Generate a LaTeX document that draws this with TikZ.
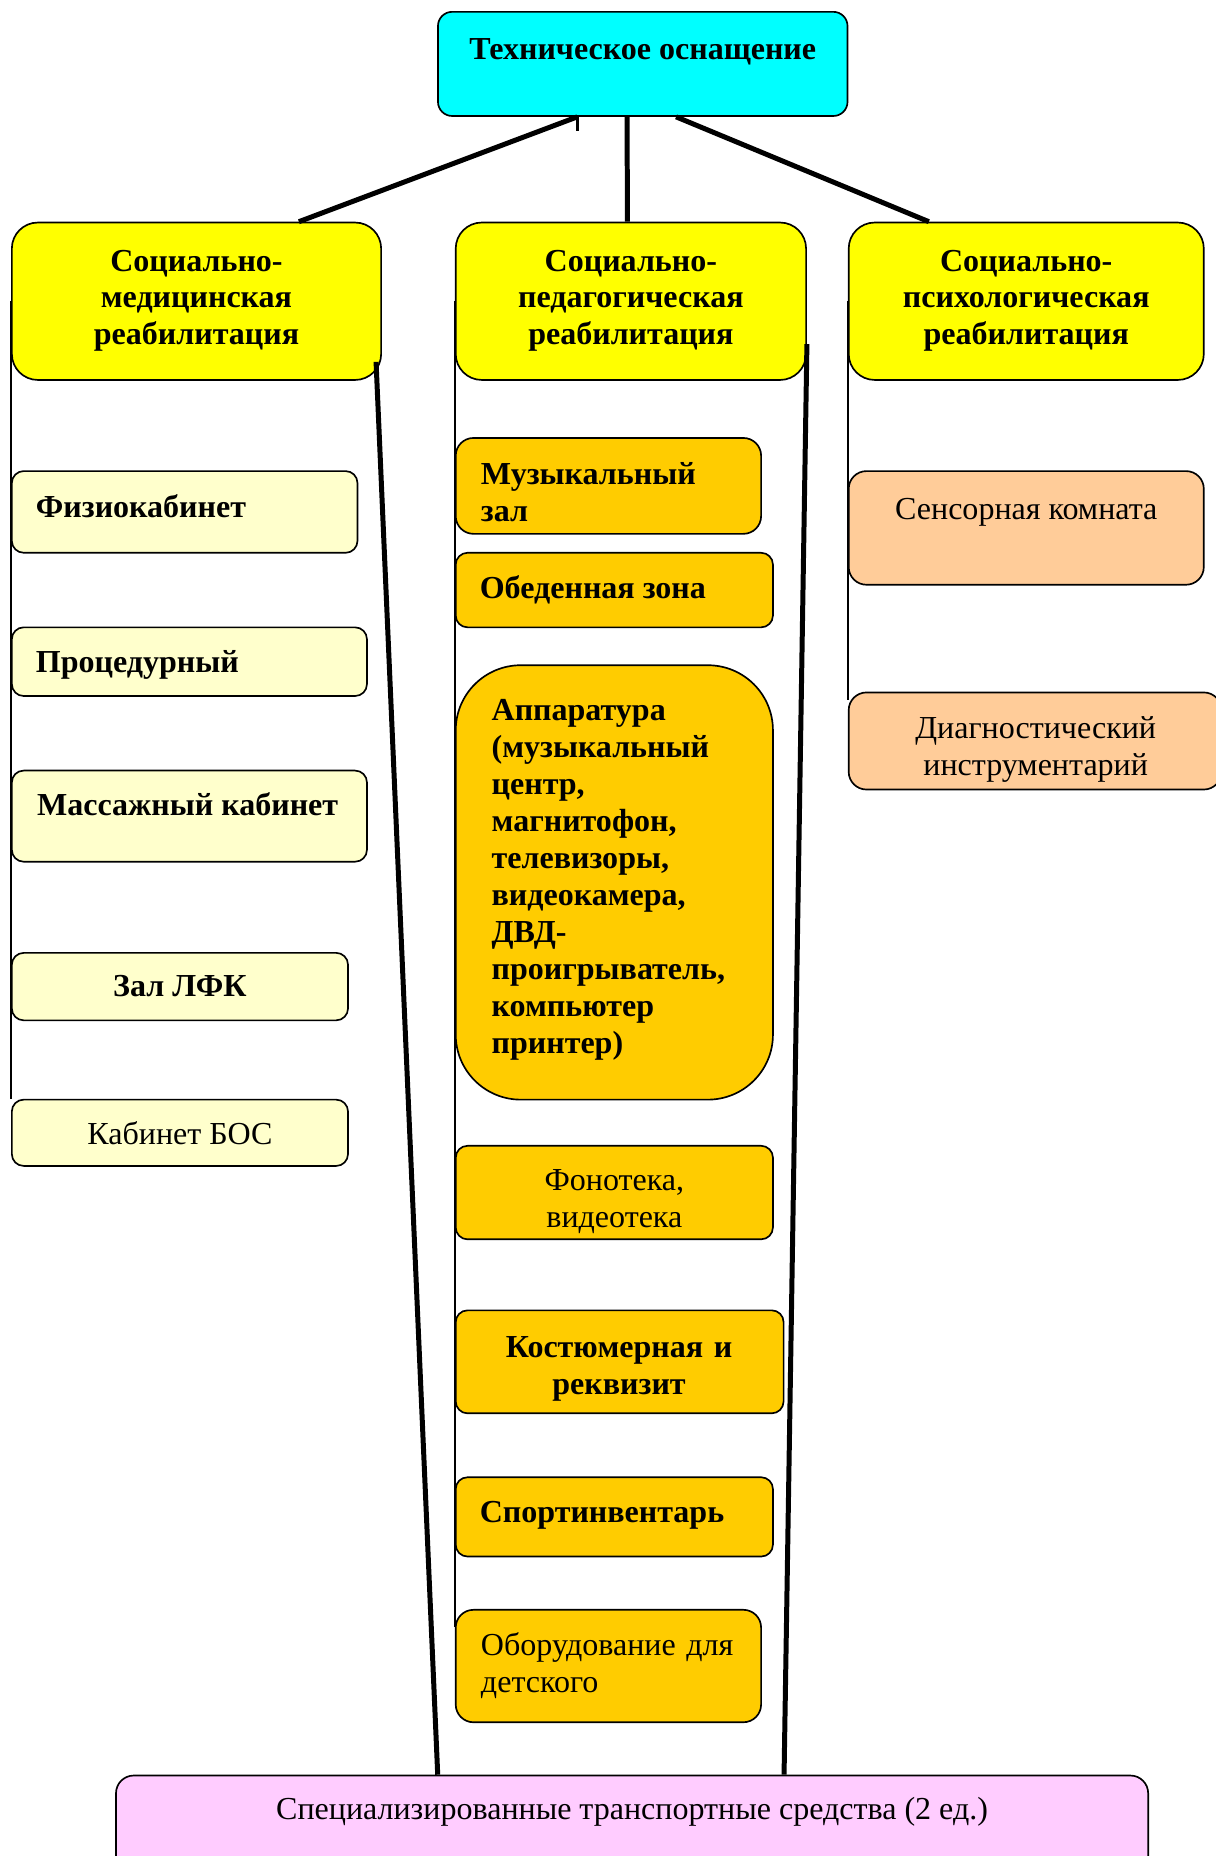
\documentclass[tikz,border=0pt]{standalone}
\usepackage{fontspec}
\setmainfont{Liberation Serif}
\usetikzlibrary{calc,fit}

\definecolor{tcyan}{HTML}{00FFFF}
\definecolor{yel}{HTML}{FFFF00}
\definecolor{lyel}{HTML}{FFFFCC}
\definecolor{orng}{HTML}{FFCC00}
\definecolor{peach}{HTML}{FFCC99}
\definecolor{pink}{HTML}{FFCCFF}

\tikzset{
  box/.style={draw, line width=0.8pt, inner sep=0pt, rounded corners=#1},
  box/.default=0.2cm,
  txt/.style={inner sep=0pt, font=\fontsize{15.4}{17.75}\selectfont},
  btxt/.style={inner sep=0pt, font=\fontsize{15.4}{17.75}\selectfont\bfseries},
  conn/.style={line width=2.4pt},
  guide/.style={line width=1.1pt},
}

\begin{document}
\begin{tikzpicture}[x=0.02cm, y=-0.02cm]
		%%%%% START %%%%%
		\useasboundingbox (0,0) rectangle (1027,1568);
		
		\node[box=0.24cm, fill=tcyan, fit={(370,10) (716,98)}] (tech) {};
		\node[btxt, anchor=base] (tech-t) at (543,50) {Техническое оснащение};
		
		\node[box=0.44cm, fill=yel, fit={(10,188) (322,321)}] (med) {};
		\node[box=0.44cm, fill=yel, fit={(385,188) (681,321)}] (ped) {};
		\node[box=0.44cm, fill=yel, fit={(717,188) (1017,321)}] (psy) {};
		\node[btxt, text width=6cm, align=center, anchor=base] (med-t) at (166,229) {Социально-\\медицинская\\реабилитация};
		\node[btxt, text width=6cm, align=center, anchor=base] (ped-t) at (533,229) {Социально-\\педагогическая\\реабилитация};
		\node[btxt, text width=6cm, align=center, anchor=base] (psy-t) at (867,229) {Социально-\\психологическая\\реабилитация};
		
		\node[box, fill=lyel, fit={(10,398) (302,467)}] (fizio) {};
		\node[box, fill=lyel, fit={(10,530) (310,588)}] (proc) {};
		\node[box, fill=lyel, fit={(10,651) (310,728)}] (mass) {};
		\node[box, fill=lyel, fit={(10,805) (294,862)}] (lfk) {};
		\node[box, fill=lyel, fit={(10,929) (294,985)}] (bos) {};
		\node[btxt, anchor=base west] (fizio-t) at (30,437) {Физиокабинет};
		\node[btxt, anchor=base west] (proc-t) at (30,568) {Процедурный};
		\node[btxt, anchor=base west] (mass-t) at (31,689) {Массажный кабинет};
		\node[btxt, anchor=base] (lfk-t) at (152,842) {Зал ЛФК};
		\node[txt, anchor=base] (bos-t) at (152,967) {Кабинет БОС};
		
		\node[box=0.3cm, fill=orng, fit={(385,370) (643,451)}] (muz) {};
		\node[box, fill=orng, fit={(385,467) (653,530)}] (obed) {};
		\node[box=1.1cm, fill=orng, fit={(385,562) (653,929)}] (appar) {};
		\node[box, fill=orng, fit={(385,968) (653,1047)}] (fono) {};
		\node[box, fill=orng, fit={(385,1107) (662,1194)}] (kost) {};
		\node[box, fill=orng, fit={(385,1248) (653,1315)}] (sport) {};
		\node[box=0.3cm, fill=orng, fit={(385,1360) (643,1455)}] (obor) {};
		\node[btxt, text width=4.8cm, align=left, anchor=base west] (muz-t) at (406,409) {Музыкальный\\зал};
		\node[btxt, anchor=base west] (obed-t) at (405,506) {Обеденная зона};
		\node[btxt, text width=4.8cm, align=left, anchor=base west] (appar-t) at (415,609) {Аппаратура\\(музыкальный\\центр,\\магнитофон,\\телевизоры,\\видеокамера,\\ДВД-\\проигрыватель,\\компьютер\\принтер)};
		\node[txt, text width=5cm, align=center, anchor=base] (fono-t) at (519,1006) {Фонотека,\\видеотека};
		\node[btxt, text width=5.4cm, align=center, anchor=base] (kost-t) at (523,1147) {Костюмерная и\\реквизит};
		\node[btxt, anchor=base west] (sport-t) at (405,1286) {Спортинвентарь};
		\node[txt, text width=4.8cm, align=left, anchor=base west] (obor-t) at (406,1399) {Оборудование для\\детского};
		
		\node[box=0.3cm, fill=peach, fit={(717,398) (1017,494)}] (sens) {};
		\node[box=0.3cm, fill=peach, fit={(717,585) (1032,667)}] (diag) {};
		\node[txt, anchor=base] (sens-t) at (867,439) {Сенсорная комната};
		\node[txt, text width=6cm, align=center, anchor=base] (diag-t) at (875,624) {Диагностический\\инструментарий};
		
		\node[box=0.3cm, fill=pink, fit={(98,1500) (970,1590)}] (trans) {};
		\node[txt, anchor=base] (trans-t) at (534,1537) {Специализированные транспортные средства (2 ед.)};
		
		% links from the top
		\coordinate (tech-l) at ($(tech.south west)!0.341!(tech.south east)$);
		\draw[conn] (tech-l) -- ($(med.north west)!0.776!(med.north east)$);
		\draw[guide] (tech-l) -- ++(0,12);
		\draw[conn] ($(tech.south west)!0.462!(tech.south east)$) -- ($(ped.north west)!0.49!(ped.north east)$);
		\draw[conn] ($(tech.south west)!0.581!(tech.south east)$) -- ($(psy.north west)!0.227!(psy.north east)$);
		
		% columns
		\draw[guide] (med.west) -- (bos.north west);
		\draw[guide] (ped.west) -- ($(obor.north west)+(0,15)$);
		\draw[guide] (psy.west) -- ($(diag.north west)+(0,7)$);
		
		\draw[conn] ($(med.south east)+(-5,-16)$) -- ($(trans.north west)!0.312!(trans.north east)$);
		\draw[conn] ($(ped.south east)+(0,-31)$) -- ($(trans.north west)!0.647!(trans.north east)$);
		
		%%%%% END %%%%%
	\end{tikzpicture}
\end{document}
